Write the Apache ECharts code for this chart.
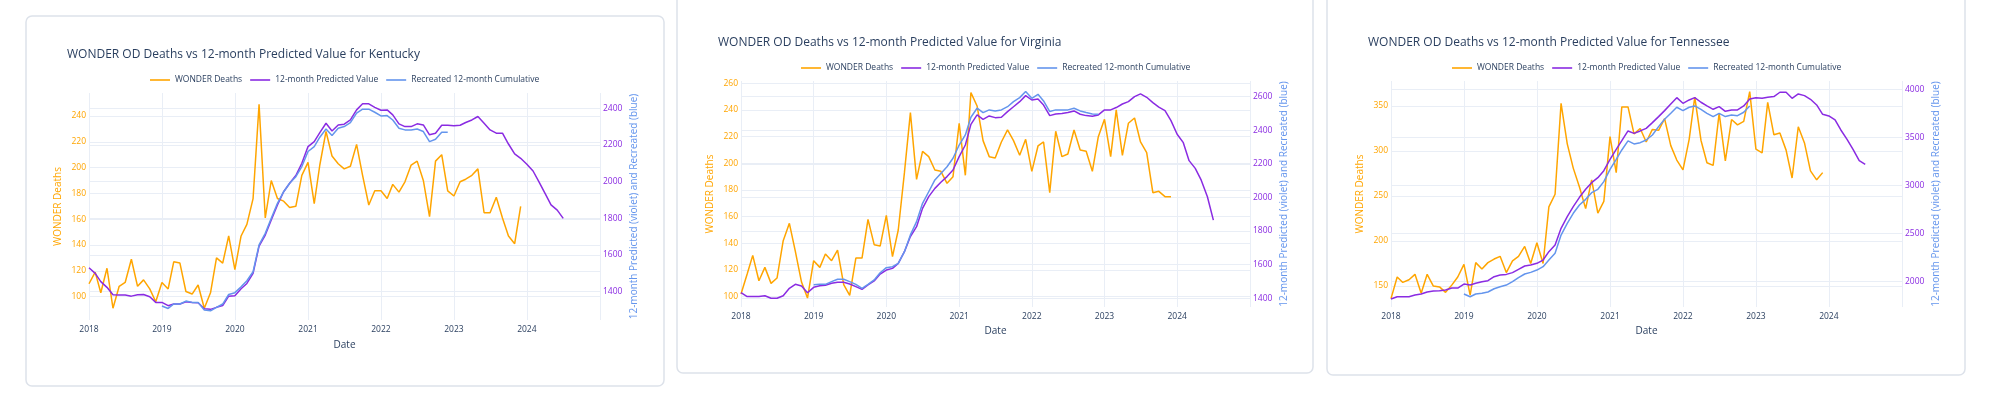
<!DOCTYPE html>
<html>
<head>
<meta charset="utf-8">
<script src="https://cdn.jsdelivr.net/npm/echarts@6/dist/echarts.min.js"></script>
<style>
  html, body { margin: 0; padding: 0; background: #ffffff; }
  #chart { width: 2000px; height: 398px; }
</style>
</head>
<body>
<div id="chart"></div>
<script>
// ---------------- DATA ----------------
const STATES = ['Kentucky', 'Virginia', 'Tennessee'];
const SERIES_NAMES = ['WONDER Deaths', '12-month Predicted Value', 'Recreated 12-month Cumulative'];
const X_TICK_YEARS = ['2018', '2019', '2020', '2021', '2022', '2023', '2024'];

// monthly series; WONDER deaths start 2018-01, predicted start 2018-01, recreated start 2019-01
const DEATHS_START = '2018-01';
const PRED_START = '2018-01';
const REC_START = '2019-01';

const KY_DEATHS = [
  110, 119, 103, 122, 91, 108, 111, 129, 108, 113, 106, 96,
  111, 106, 127, 126, 104, 102, 109, 91, 103, 130, 126, 147,
  121, 147, 156, 176, 249, 161, 190, 176, 174, 169, 170, 194,
  204, 172, 202, 228, 209, 203, 199, 201, 218, 194, 171, 182,
  182, 176, 187, 181, 189, 202, 205, 190, 162, 205, 210, 182,
  178, 189, 191, 194, 199, 165, 165, 177, 161, 147, 141, 170
];
const KY_PRED = [
  1531, 1500, 1455, 1424, 1384, 1382, 1382, 1376, 1384, 1385, 1373, 1342,
  1342, 1324, 1333, 1333, 1345, 1342, 1340, 1307, 1304, 1315, 1325, 1376,
  1378, 1416, 1445, 1500, 1649, 1709, 1791, 1873, 1945, 1991, 2033, 2100,
  2191, 2218, 2267, 2318, 2276, 2309, 2313, 2336, 2391, 2424, 2424, 2405,
  2389, 2391, 2364, 2315, 2300, 2300, 2315, 2309, 2255, 2264, 2307, 2307,
  2304, 2307, 2322, 2336, 2355, 2318, 2282, 2264, 2264, 2205, 2151, 2127,
  2095, 2058, 2000, 1936, 1873, 1845, 1800
];
const KY_REC = [
  1322, 1309, 1333, 1333, 1349, 1342, 1342, 1300, 1296, 1315, 1333, 1385,
  1395, 1427, 1460, 1509, 1655, 1718, 1800, 1882, 1945, 1991, 2027, 2082,
  2164, 2191, 2242, 2287, 2251, 2291, 2300, 2322, 2373, 2395, 2395, 2378,
  2358, 2360, 2336, 2291, 2282, 2282, 2287, 2273, 2218, 2231, 2269, 2269
];

const VA_DEATHS = [
  102, 117, 131, 112, 122, 110, 114, 142, 155, 134, 111, 99,
  127, 122, 132, 127, 135, 109, 101, 129, 129, 158, 139, 138,
  161, 130, 150, 193, 238, 188, 209, 205, 195, 194, 185, 190,
  230, 191, 253, 243, 217, 205, 204, 216, 225, 217, 206, 218,
  194, 213, 216, 178, 224, 205, 207, 225, 210, 209, 194, 220,
  233, 205, 240, 206, 230, 234, 216, 208, 178, 179, 175, 175
];
const VA_PRED = [
  1433, 1410, 1410, 1410, 1415, 1400, 1400, 1415, 1459, 1483, 1473, 1433,
  1465, 1475, 1477, 1489, 1495, 1495, 1485, 1469, 1453, 1479, 1503, 1544,
  1568, 1578, 1608, 1677, 1767, 1826, 1935, 2005, 2054, 2090, 2124, 2163,
  2243, 2312, 2435, 2491, 2465, 2485, 2475, 2477, 2511, 2540, 2570, 2606,
  2580, 2586, 2550, 2487, 2497, 2499, 2505, 2515, 2495, 2487, 2483, 2491,
  2521, 2521, 2535, 2556, 2570, 2600, 2616, 2596, 2564, 2537, 2517, 2457,
  2376, 2326, 2219, 2173, 2103, 2004, 1865
];
const VA_REC = [
  1480, 1483, 1483, 1499, 1513, 1513, 1499, 1483, 1459, 1483, 1509, 1552,
  1582, 1588, 1608, 1677, 1777, 1856, 1965, 2034, 2104, 2143, 2183, 2233,
  2312, 2372, 2477, 2531, 2505, 2521, 2515, 2521, 2540, 2570, 2594, 2630,
  2590, 2614, 2574, 2511, 2521, 2521, 2521, 2531, 2515, 2505, 2497, 2495
];

const TN_DEATHS = [
  136, 160, 154, 157, 163, 142, 163, 150, 149, 143, 151, 160,
  174, 140, 176, 169, 176, 180, 183, 165, 178, 183, 194, 175,
  198, 175, 238, 252, 353, 308, 281, 260, 236, 268, 231, 244,
  316, 276, 349, 349, 319, 325, 310, 324, 323, 336, 306, 290,
  279, 313, 360, 312, 287, 284, 342, 289, 335, 329, 333, 366,
  302, 298, 354, 318, 320, 301, 270, 327, 309, 278, 268, 276
];
const TN_PRED = [
  1820, 1844, 1844, 1844, 1861, 1872, 1893, 1903, 1906, 1913, 1934, 1934,
  1976, 1965, 1983, 2000, 2010, 2052, 2069, 2076, 2094, 2128, 2163, 2173,
  2191, 2225, 2312, 2381, 2555, 2676, 2780, 2877, 2960, 3029, 3081, 3154,
  3272, 3376, 3466, 3567, 3542, 3567, 3594, 3653, 3716, 3778, 3847, 3913,
  3854, 3889, 3913, 3865, 3827, 3792, 3820, 3771, 3785, 3785, 3827, 3899,
  3913, 3906, 3917, 3924, 3969, 3969, 3906, 3951, 3934, 3896, 3837, 3740,
  3723, 3681, 3577, 3480, 3376, 3258, 3220
];
const TN_REC = [
  1872, 1844, 1872, 1879, 1893, 1927, 1948, 1965, 2000, 2042, 2080, 2097,
  2121, 2156, 2225, 2295, 2485, 2607, 2711, 2797, 2856, 2925, 2960, 3040,
  3168, 3272, 3369, 3463, 3432, 3445, 3473, 3525, 3612, 3688, 3750, 3813,
  3778, 3813, 3827, 3792, 3750, 3716, 3750, 3716, 3733, 3726, 3761, 3827
];

// ---------------- LAYOUT / STYLE ----------------
const FONT = '"Open Sans", "DejaVu Sans", sans-serif';
const C_TEXT = '#2a3f5f';
const C_ORANGE = '#FFA500';
const C_VIOLET = '#8A2BE2';
const C_BLUE = '#6495ED';
const C_GRID = '#e9eef6';

const PANELS = [
  { state: STATES[0], deaths: KY_DEATHS, pred: KY_PRED, rec: KY_REC,
    grid: { left: 89, top: 93, width: 511, height: 227 },
    titleLeft: 67, titleCY: 55, legendCY: 80, dateGap: 20,
    left: { min: 81.9, max: 257.8, step: 20 }, right: { min: 1246, max: 2483, step: 200 },
    card: { x: 26, y: 16, width: 638, height: 370 } },
  { state: STATES[1], deaths: VA_DEATHS, pred: VA_PRED, rec: VA_REC,
    grid: { left: 741, top: 81, width: 509, height: 226 },
    titleLeft: 718, titleCY: 43, legendCY: 68, dateGap: 19,
    left: { min: 92.3, max: 261.7, step: 20 }, right: { min: 1348, max: 2693, step: 200 },
    card: { x: 677, y: -20, width: 636, height: 393 } },
  { state: STATES[2], deaths: TN_DEATHS, pred: TN_PRED, rec: TN_REC,
    grid: { left: 1391, top: 81, width: 511, height: 226 },
    titleLeft: 1368, titleCY: 43, legendCY: 68, dateGap: 19,
    left: { min: 126.7, max: 377.8, step: 50 }, right: { min: 1737, max: 4086, step: 500 },
    card: { x: 1327, y: -20, width: 638, height: 395 } }
];

function monthDate(start, i) {
  const [y, m] = start.split('-').map(Number);
  const t = y * 12 + (m - 1) + i;
  return Math.floor(t / 12) + '-' + String(t % 12 + 1).padStart(2, '0') + '-01';
}
function toPairs(start, arr) { return arr.map((v, i) => [monthDate(start, i), v]); }

// legend width measurement (for centering each legend over its plot)
const LEG_FONT_SIZE = 8.5, LEG_ICON_W = 20, LEG_GAP = 8;
const mctx = document.createElement('canvas').getContext('2d');
mctx.font = LEG_FONT_SIZE + 'px ' + FONT;
const legendWidth = SERIES_NAMES.reduce((s, n) => s + mctx.measureText(n).width + LEG_ICON_W + 5, 0)
  + LEG_GAP * (SERIES_NAMES.length - 1);

function stepFormatter(step) {
  return v => (Math.abs(v / step - Math.round(v / step)) < 1e-6 ? String(Math.round(v)) : '');
}

const option = {
  animation: false,
  backgroundColor: '#ffffff',
  textStyle: { fontFamily: FONT },
  title: [], legend: [], grid: [], xAxis: [], yAxis: [], series: [],
  graphic: []
};

PANELS.forEach((p, i) => {
  option.graphic.push({
    type: 'rect', silent: true, z: -100,
    shape: { x: p.card.x, y: p.card.y, width: p.card.width, height: p.card.height, r: 6 },
    style: { fill: 'none', stroke: '#dde2ea', lineWidth: 1.5 }
  });
  option.title.push({
    text: 'WONDER OD Deaths vs 12-month Predicted Value for ' + p.state,
    left: p.titleLeft, top: p.titleCY - 7, padding: 0,
    textStyle: { fontFamily: FONT, fontSize: 12, fontWeight: 'normal', color: C_TEXT, lineHeight: 14 }
  });
  const cx = p.grid.left + p.grid.width / 2;
  option.legend.push({
    data: SERIES_NAMES.slice(),
    left: Math.round(cx - legendWidth / 2), top: p.legendCY - 6, padding: 0,
    orient: 'horizontal', icon: 'rect', itemWidth: LEG_ICON_W, itemHeight: 1.6, itemGap: LEG_GAP,
    textStyle: { fontFamily: FONT, fontSize: LEG_FONT_SIZE, color: C_TEXT, lineHeight: 12 },
    selectedMode: false
  });
  option.grid.push(Object.assign({ containLabel: false, show: false }, p.grid));
  option.xAxis.push({
    type: 'time', gridIndex: i,
    min: '2018-01-01', max: '2025-01-01',
    minInterval: 365 * 24 * 3600 * 1000, maxInterval: 366 * 24 * 3600 * 1000,
    axisLine: { show: false }, axisTick: { show: false },
    axisLabel: {
      color: C_TEXT, fontSize: 8.5, fontFamily: FONT, margin: 5,
      showMaxLabel: false,
      formatter: v => {
        const d = new Date(v);
        const y = String(d.getFullYear());
        return (d.getMonth() === 0 && d.getDate() === 1 && X_TICK_YEARS.indexOf(y) >= 0) ? y : '';
      }
    },
    splitLine: { show: true, lineStyle: { color: C_GRID, width: 1 } },
    name: 'Date', nameLocation: 'middle', nameGap: p.dateGap,
    nameTextStyle: { color: C_TEXT, fontSize: 10, fontFamily: FONT }
  });
  option.yAxis.push({
    type: 'value', gridIndex: i, position: 'left',
    min: p.left.min, max: p.left.max, minInterval: p.left.step, maxInterval: p.left.step,
    axisLine: { show: false }, axisTick: { show: false },
    axisLabel: { color: C_ORANGE, fontSize: 8.5, fontFamily: FONT, margin: 3,
      showMinLabel: false, showMaxLabel: false, formatter: stepFormatter(p.left.step) },
    splitLine: { show: true, showMinLine: false, showMaxLine: false, lineStyle: { color: C_GRID, width: 1 } },
    name: 'WONDER Deaths', nameLocation: 'middle', nameGap: 26,
    nameTextStyle: { color: C_ORANGE, fontSize: 10, fontFamily: FONT }
  });
  option.yAxis.push({
    type: 'value', gridIndex: i, position: 'right',
    min: p.right.min, max: p.right.max, minInterval: p.right.step, maxInterval: p.right.step,
    axisLine: { show: false }, axisTick: { show: false },
    axisLabel: { color: C_VIOLET, fontSize: 8.5, fontFamily: FONT, margin: 3,
      showMinLabel: false, showMaxLabel: false, formatter: stepFormatter(p.right.step) },
    splitLine: { show: true, showMinLine: false, showMaxLine: false, lineStyle: { color: C_GRID, width: 1 } },
    name: '12-month Predicted (violet) and Recreated (blue)', nameLocation: 'middle', nameGap: 29,
    nameTextStyle: { color: C_BLUE, fontSize: 10, fontFamily: FONT }
  });
  const common = { type: 'line', xAxisIndex: i, symbol: 'none', showSymbol: false, smooth: false };
  option.series.push(Object.assign({}, common, {
    name: SERIES_NAMES[0], yAxisIndex: 2 * i, color: C_ORANGE,
    lineStyle: { color: C_ORANGE, width: 1.5 }, itemStyle: { color: C_ORANGE },
    data: toPairs(DEATHS_START, p.deaths)
  }));
  option.series.push(Object.assign({}, common, {
    name: SERIES_NAMES[1], yAxisIndex: 2 * i + 1, color: C_VIOLET,
    lineStyle: { color: C_VIOLET, width: 1.5 }, itemStyle: { color: C_VIOLET },
    data: toPairs(PRED_START, p.pred)
  }));
  option.series.push(Object.assign({}, common, {
    name: SERIES_NAMES[2], yAxisIndex: 2 * i + 1, color: C_BLUE,
    lineStyle: { color: C_BLUE, width: 1.5 }, itemStyle: { color: C_BLUE },
    data: toPairs(REC_START, p.rec)
  }));
});

const chart = echarts.init(document.getElementById('chart'), null, { renderer: 'canvas', width: 2000, height: 398 });
chart.setOption(option);
</script>
</body>
</html>
